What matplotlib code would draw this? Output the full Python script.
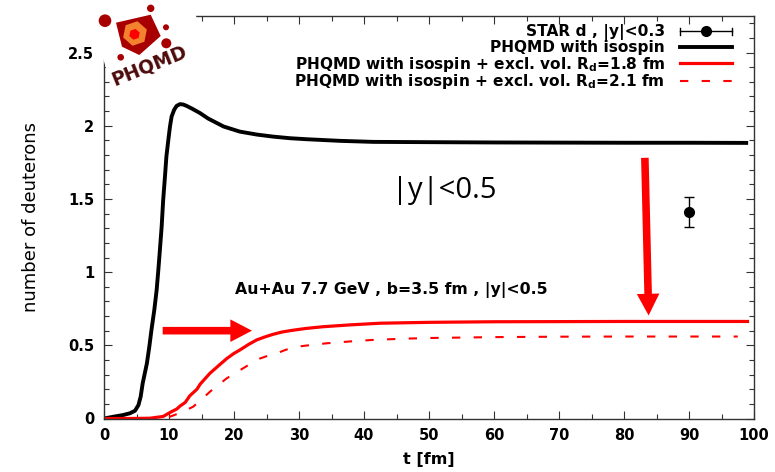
import numpy as np
import matplotlib
matplotlib.use("Agg")
import matplotlib.pyplot as plt
from matplotlib.patches import Polygon, Circle, RegularPolygon, FancyArrowPatch
from matplotlib.ticker import MultipleLocator

# ---------------- data ----------------
t_black = [0, 1.44, 2.97, 4.0, 4.77, 5.3, 5.64, 5.95, 6.6, 6.97, 7.3, 7.74, 8.1, 8.36, 8.6, 8.87,
           9.1, 9.38, 9.6, 9.9, 10.15, 10.4, 10.8, 11.18, 11.7, 12.2, 12.7, 13.5, 14.8, 16.0,
           18.4, 20.9, 23.5, 26, 28.6, 31.2, 36.3, 41.4, 50, 60, 70, 80, 90, 98.8]
n_black = [0, 0.012, 0.024, 0.036, 0.053, 0.092, 0.149, 0.24, 0.377, 0.49, 0.605, 0.742, 0.878, 1.015, 1.152, 1.311,
           1.49, 1.653, 1.79, 1.904, 1.995, 2.063, 2.11, 2.136, 2.148, 2.145, 2.136, 2.118, 2.086, 2.05,
           1.995, 1.96, 1.94, 1.926, 1.915, 1.908, 1.897, 1.89, 1.888, 1.886, 1.885, 1.884, 1.884, 1.883]

t_red18 = [0, 4, 7.1, 9.1, 10.4, 11.2, 11.7, 12.5, 13.2, 14.3, 14.8, 16.3, 17.6, 18.9, 20.0, 20.9,
           22.2, 23.5, 24.8, 26, 27.3, 28.6, 31, 33.7, 38, 42.5, 50, 60, 70, 80, 90, 99]
n_red18 = [0, 0, 0.002, 0.014, 0.047, 0.065, 0.085, 0.11, 0.155, 0.2, 0.235, 0.309, 0.36, 0.41, 0.445, 0.468,
           0.505, 0.537, 0.558, 0.575, 0.59, 0.60, 0.615, 0.627, 0.64, 0.651, 0.657, 0.661, 0.662, 0.663, 0.663, 0.663]

t_red21 = [0, 5, 8, 10, 11.2, 12.5, 13.7, 15, 16.3, 17.6, 18.9, 20.2, 21.4, 22.7, 24, 25.3, 26.6, 28,
           29.6, 32, 34.3, 38, 41.4, 46, 50, 55, 60, 70, 80, 90, 97.5]
n_red21 = [0, 0, 0.0, 0.01, 0.03, 0.055, 0.08, 0.13, 0.183, 0.23, 0.275, 0.31, 0.343, 0.378, 0.41, 0.43, 0.446, 0.47,
           0.49, 0.503, 0.514, 0.527, 0.537, 0.545, 0.55, 0.553, 0.556, 0.559, 0.56, 0.56, 0.56]

star_t = [90]
star_n = [1.41]
star_err = [0.105]

arrow_right = [(8.6, 0.60), (23.2, 0.60)]
arrow_down = [(83.2, 1.80), (83.8, 0.685)]

xticks = [0, 10, 20, 30, 40, 50, 60, 70, 80, 90, 100]
yticks = [0, 0.5, 1, 1.5, 2, 2.5]
ytick_labels = ["0", "0.5", "1", "1.5", "2", "2.5"]

labels = ["STAR d , |y|<0.3",
          "PHQMD with isospin",
          r"PHQMD with isospin + excl. vol. R$_\mathbf{d}$=1.8 fm",
          r"PHQMD with isospin + excl. vol. R$_\mathbf{d}$=2.1 fm"]

# ---------------- style ----------------
plt.rcParams['font.family'] = ['DejaVu Sans']
plt.rcParams['mathtext.fontset'] = 'custom'
plt.rcParams['mathtext.bf'] = 'DejaVu Sans:bold'
plt.rcParams['mathtext.rm'] = 'DejaVu Sans:bold'

RED = '#ff0000'
fig = plt.figure(figsize=(7.75, 4.72), dpi=100)
W, H = 775, 472
ax = fig.add_axes([104 / W, (H - 418.5) / H, (754 - 104) / W, (418.5 - 16) / H])

ax.plot(t_black, n_black, color='black', lw=2.8, solid_joinstyle='round')
ax.plot(t_red18, n_red18, color=RED, lw=2.3, solid_joinstyle='round')
ax.plot(t_red21, n_red21, color=RED, lw=1.5, dashes=(4, 6.4))
ax.errorbar(star_t, star_n, yerr=star_err, fmt='o', color='black', ms=7,
            capsize=3.5, elinewidth=1, capthick=1)

ax.set_xlim(0, 100)
ax.set_ylim(0, 2.75)
ax.set_xticks(xticks)
ax.set_yticks(yticks)
ax.set_yticklabels(ytick_labels)
ax.xaxis.set_minor_locator(MultipleLocator(5))
ax.yaxis.set_minor_locator(MultipleLocator(0.1))
ax.tick_params(which='both', direction='in', top=True, right=True, color='#333333')
ax.tick_params(which='major', length=6, width=0.8, labelsize=10.5, pad=7)
ax.tick_params(which='minor', length=3.5, width=0.8)
for lab in ax.get_xticklabels() + ax.get_yticklabels():
    lab.set_fontweight('bold')
for s in ax.spines.values():
    s.set_color('#333333')
    s.set_linewidth(1.0)

ax.set_xlabel("t [fm]", fontsize=11.5, fontweight='bold', labelpad=6)
ax.set_ylabel("number of deuterons", fontsize=13, labelpad=20)

# arrows
for p0, p1 in [arrow_right, arrow_down]:
    ax.add_patch(FancyArrowPatch(p0, p1, arrowstyle='simple,head_width=1.25,head_length=1.2,tail_width=0.42',
                                 mutation_scale=13, color=RED, lw=0, zorder=5))

ax.text(52.4, 1.509, "|y|<0.5", fontsize=21, family='Open Sans', ha='center', va='baseline')
ax.text(44.15, 0.851, "Au+Au 7.7 GeV , b=3.5 fm , |y|<0.5", fontsize=11.3, fontweight='bold',
        ha='center', va='baseline')

# ---------------- overlay in pixel coordinates (legend + logo) ----------------
lax = fig.add_axes([0, 0, 1, 1], zorder=10)
lax.set_xlim(0, W)
lax.set_ylim(H, 0)
lax.axis('off')
lax.patch.set_alpha(0)

# legend (text right-aligned, symbol to the right)
row_y = [31.0, 47.2, 63.4, 80.6]
x_txt, x0, x1 = 665, 680, 732
for yy, lab in zip(row_y, labels):
    lax.text(x_txt, yy + 5.1, lab, ha='right', va='baseline', fontsize=11.1, fontweight='bold')
yy = row_y[0]
lax.plot([x0, x1], [yy, yy], color='black', lw=1)
lax.plot([x0, x0], [yy - 3.5, yy + 3.5], color='black', lw=1)
lax.plot([x1, x1], [yy - 3.5, yy + 3.5], color='black', lw=1)
lax.plot([(x0 + x1) / 2], [yy], 'o', color='black', ms=7)
lax.plot([x0, x1], [row_y[1]] * 2, color='black', lw=2.8)
lax.plot([x0, x1], [row_y[2]] * 2, color=RED, lw=2.3)
lax.plot([x0, x1], [row_y[3]] * 2, color=RED, lw=1.5, dashes=(4, 6.4))

# logo
lax.add_patch(Polygon([(90, 15), (188, -6), (212, 60), (112, 88)], closed=True,
                      facecolor='white', edgecolor='none'))
lax.add_patch(Polygon([(116, 22.7), (150.7, 14.7), (160.7, 36), (139.3, 55), (122, 46.7)],
                      closed=True, facecolor='#a80000', edgecolor='none'))
lax.add_patch(RegularPolygon((135, 33.5), 6, radius=12.5, orientation=0.2,
                             facecolor='#f3822e', edgecolor='none'))
lax.add_patch(RegularPolygon((134.5, 34.3), 6, radius=5.5, orientation=0.2,
                             facecolor='#ff0000', edgecolor='none'))
for (cx, cy, r) in [(105, 20.7, 6.3), (150.7, 8.3, 3.7), (166, 27.3, 3.0), (166.3, 43.3, 5.0), (120.7, 57.3, 3.3)]:
    lax.add_patch(Circle((cx, cy), r, facecolor='#a80000', edgecolor='none'))
lax.text(149, 66, "PHQMD", rotation=22, color='#4d0b0b', fontsize=13.5, fontweight='bold',
         ha='center', va='center', rotation_mode='anchor')

fig.savefig("out.png", dpi=100)
